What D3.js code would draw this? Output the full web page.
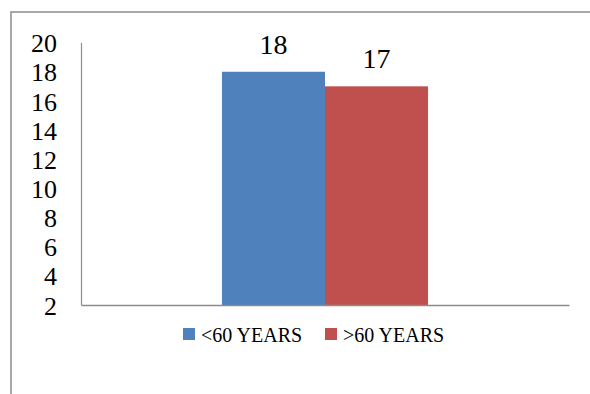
<!DOCTYPE html>
<html>
<head>
<meta charset="utf-8">
<script src="https://cdn.jsdelivr.net/npm/d3@7"></script>
<style>
  html, body { margin: 0; padding: 0; background: #fff; }
  svg { display: block; }
  text { font-family: "Liberation Serif", "DejaVu Serif", serif; fill: #000; }
</style>
</head>
<body>
<svg id="chart" width="590" height="394"></svg>
<script>
// Chart data
const categories = ["Age group"];
const seriesNames = ["<60 YEARS", ">60 YEARS"];
const seriesValues = [18, 17];
const seriesColors = ["#4F81BD", "#C0504D"];
const yTicks = [2, 4, 6, 8, 10, 12, 14, 16, 18, 20];

const svg = d3.select("#chart");
const W = 590, H = 394;

// Outer chart frame (only its top and left edges fall inside the view)
svg.append("rect")
  .attr("x", 11).attr("y", 12)
  .attr("width", 640).attr("height", 440)
  .attr("fill", "none")
  .attr("stroke", "#8c8c8c")
  .attr("stroke-width", 1.5);

const plot = { left: 81, right: 569, top: 42.6, bottom: 305 };

const y = d3.scaleLinear().domain([2, 20]).range([plot.bottom, plot.top]);

const x0 = d3.scaleBand()
  .domain(categories)
  .range([plot.left, plot.right])
  .paddingInner(0)
  .paddingOuter(0.684);

const x1 = d3.scaleBand()
  .domain(seriesNames)
  .range([0, x0.bandwidth()])
  .padding(0);

// Bars
const rows = seriesNames.map((s, i) => ({ cat: categories[0], name: s, value: seriesValues[i], color: seriesColors[i] }));

svg.append("g").selectAll("rect")
  .data(rows)
  .join("rect")
  .attr("x", d => x0(d.cat) + x1(d.name))
  .attr("y", d => y(d.value))
  .attr("width", x1.bandwidth())
  .attr("height", d => y(2) - y(d.value))
  .attr("fill", d => d.color);

// Value labels above bars
svg.append("g").selectAll("text")
  .data(rows)
  .join("text")
  .attr("x", d => x0(d.cat) + x1(d.name) + x1.bandwidth() / 2)
  .attr("y", d => y(d.value) - 18)
  .attr("text-anchor", "middle")
  .attr("font-size", 28)
  .text(d => d.value);

// Y axis
const yAxis = d3.axisLeft(y).tickValues(yTicks).tickSize(0).tickPadding(24);
const gy = svg.append("g").attr("transform", `translate(${plot.left},0)`).call(yAxis);
gy.select(".domain").attr("stroke", "#8c8c8c").attr("stroke-width", 1.2);
gy.selectAll(".tick text")
  .attr("font-size", 26)
  .attr("font-family", "Liberation Serif, DejaVu Serif, serif")
  .attr("fill", "#000")
  .attr("dy", "0.35em");

// X axis baseline
const xAxis = d3.axisBottom(x0).tickSize(0).tickFormat("");
const gx = svg.append("g").attr("transform", `translate(0,${plot.bottom})`).call(xAxis);
gx.select(".domain").attr("stroke", "#8c8c8c").attr("stroke-width", 1.5);

// Legend
const legend = svg.append("g").attr("transform", "translate(183,328)");
const legendX = [0, 142];
const items = legend.selectAll("g")
  .data(rows)
  .join("g")
  .attr("transform", (d, i) => `translate(${legendX[i]},0)`);
items.append("rect")
  .attr("width", 12).attr("height", 12)
  .attr("fill", d => d.color);
items.append("text")
  .attr("x", 18).attr("y", 14)
  .attr("font-size", 20)
  .text(d => d.name);
</script>
</body>
</html>
